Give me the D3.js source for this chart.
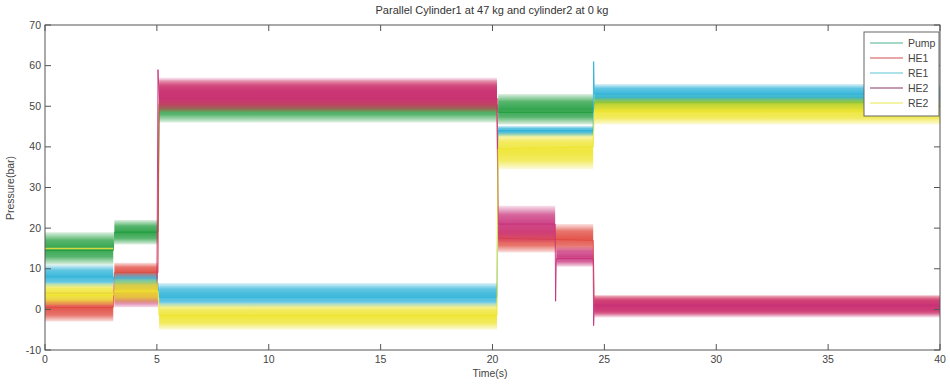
<!DOCTYPE html>
<html><head><meta charset="utf-8">
<script src="https://cdn.jsdelivr.net/npm/d3@7/dist/d3.min.js"></script>
<style>body{margin:0;background:#fff;} text{font-family:Arial,"Liberation Sans",sans-serif;}</style>
</head><body><svg id="c" width="950" height="386"></svg>
<script>
// ---- data (time in s, pressure in bar) ----
const seriesNames = ["Pump","HE1","RE1","HE2","RE2"];
const xTicks = [0,5,10,15,20,25,30,35,40];
const yTicks = [-10,0,10,20,30,40,50,60,70];
// mean trace points [t, value]
const pumpLine = [[0,14.5],[3.05,14.5],[3.1,19],[5.05,19],[5.1,50.5],[20.2,50.5],[20.25,48.5],[24.5,48.5],[24.55,51],[40,51]];
const he1Line  = [[0,0.5],[3.05,0.5],[3.1,9],[5.05,9],[5.1,52],[20.2,52],[20.25,17.5],[24.5,17],[24.55,1],[40,1]];
const re1Line  = [[0,8],[3.05,8],[3.1,6.5],[5.05,6.5],[5.1,3],[20.2,3],[20.25,44],[24.5,44],[24.52,61],[24.55,53],[40,53]];
const he2Line  = [[0,4],[3.05,4],[3.1,4],[5.0,4],[5.05,59],[5.1,52],[20.2,52],[20.25,21],[22.8,21],[22.82,2],[22.85,12.5],[24.5,12.5],[24.52,-4],[24.55,1],[40,1]];
const re2Line  = [[0,3.5],[3.05,3.5],[3.1,4.5],[5.05,4.5],[5.1,-1.5],[20.2,-1.5],[20.25,39.5],[24.5,40],[24.55,49],[40,49]];
// noise envelopes [t0, t1, low, high]
const pumpBand = [[0,3.05,11,19],[3.1,5.05,16,22],[5.1,20.2,46,54],[20.25,24.5,45.5,53],[24.55,40,48.5,53]];
const he1Band  = [[0,3.05,-3,3.5],[3.1,5.05,7,11.5],[5.1,20.2,48.5,56.5],[20.25,24.5,14,21],[24.55,40,-1.5,3.5]];
const re1Band  = [[0,3.05,5.5,11],[3.1,5.05,4.5,9],[5.1,20.2,0.5,6.5],[20.25,24.5,42.5,45.2],[24.55,40,51,55.5]];
const he2Band  = [[3.1,5.05,0.5,6.5],[5.1,20.2,49,57],[20.25,22.8,16.5,25.5],[22.85,24.5,10.5,15.5],[24.55,40,-2,3.5]];
const re2Band  = [[0,3.05,1,6.5],[3.1,5.05,1.5,7.5],[5.1,20.2,-5,1.5],[20.25,24.5,34.5,43.5],[24.55,40,45.5,52]];
const refLine  = [[0,15],[3.05,15]];

const colors = ["#1e9c3c","#e0463c","#2cb2d8","#c8307a","#eee42a"];
const legendColors = ["#86ccb4","#e08888","#92d8e4","#b07898","#f0f08a"];
const lines = [pumpLine,he1Line,re1Line,he2Line,re2Line];
const bands = [pumpBand,he1Band,re1Band,he2Band,re2Band];

const svg = d3.select("#c");
const L=45,R=940,T=25,B=350;
const x = d3.scaleLinear().domain([0,40]).range([L,R]);
const y = d3.scaleLinear().domain([-10,70]).range([B,T]);

// vertical density gradients (noise is sparse near band edges)
const defs = svg.append("defs");
colors.forEach((c,i)=>{
  const gr = defs.append("linearGradient").attr("id","gr"+i).attr("x1",0).attr("x2",0).attr("y1",0).attr("y2",1);
  [[0,0.15],[0.25,0.75],[0.5,0.9],[0.75,0.75],[1,0.15]].forEach(s=>
    gr.append("stop").attr("offset",s[0]).attr("stop-color",c).attr("stop-opacity",s[1]));
});

// bands & lines
const g = svg.append("g");
const area = d3.area().x(d=>x(d[0])).y0(d=>y(d[1])).y1(d=>y(d[2]));
const line = d3.line().x(d=>x(d[0])).y(d=>y(d[1]));
seriesNames.forEach((n,i)=>{
  bands[i].forEach(b=>{
    g.append("path").datum([[b[0],b[2],b[3]],[b[1],b[2],b[3]]])
      .attr("d",area).attr("fill","url(#gr"+i+")");
  });
  g.append("path").datum(lines[i]).attr("d",line).attr("fill","none")
    .attr("stroke",colors[i]).attr("stroke-width",1).attr("stroke-opacity",0.9);
  if(i===0){
    g.append("path").datum(refLine).attr("d",line).attr("fill","none")
      .attr("stroke","#d6d640").attr("stroke-width",1.5);
  }
});

// axes box
svg.append("rect").attr("x",L).attr("y",T).attr("width",R-L).attr("height",B-T)
  .attr("fill","none").attr("stroke","#555").attr("stroke-width",1);
const ax = svg.append("g").attr("stroke","#555");
xTicks.forEach(t=>{
  ax.append("line").attr("x1",x(t)).attr("x2",x(t)).attr("y1",B).attr("y2",B-6);
  ax.append("line").attr("x1",x(t)).attr("x2",x(t)).attr("y1",T).attr("y2",T+6);
});
yTicks.forEach(t=>{
  ax.append("line").attr("x1",L).attr("x2",L+6).attr("y1",y(t)).attr("y2",y(t));
  ax.append("line").attr("x1",R).attr("x2",R-6).attr("y1",y(t)).attr("y2",y(t));
});
const tl = svg.append("g").attr("font-size",10.5).attr("fill","#444");
xTicks.forEach(t=>tl.append("text").attr("x",x(t)).attr("y",B+13).attr("text-anchor","middle").text(t));
yTicks.forEach(t=>tl.append("text").attr("x",L-4).attr("y",y(t)+3.5).attr("text-anchor","end").text(t));

svg.append("text").attr("x",492).attr("y",14).attr("text-anchor","middle").attr("font-size",11).attr("fill","#333")
  .text("Parallel   Cylinder1 at 47 kg and cylinder2 at 0 kg");
svg.append("text").attr("x",490).attr("y",377).attr("text-anchor","middle").attr("font-size",10.5).attr("fill","#444").text("Time(s)");
svg.append("text").attr("transform","translate(14,188) rotate(-90)").attr("text-anchor","middle").attr("font-size",10.5).attr("fill","#444").text("Pressure(bar)");

// legend
const lg = svg.append("g");
lg.append("rect").attr("x",864).attr("y",32).attr("width",75).attr("height",84).attr("fill","#fff").attr("stroke","#666");
seriesNames.forEach((n,i)=>{
  const yy = 43 + i*15;
  lg.append("line").attr("x1",870).attr("x2",903).attr("y1",yy).attr("y2",yy).attr("stroke",legendColors[i]).attr("stroke-width",1.3);
  lg.append("text").attr("x",908).attr("y",yy+3.5).attr("font-size",10.5).attr("fill","#444").text(n);
});
</script></body></html>
